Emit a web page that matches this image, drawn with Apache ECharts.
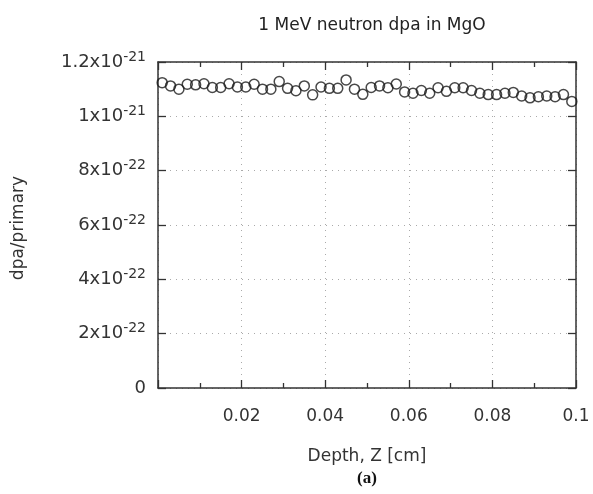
<!DOCTYPE html>
<html>
<head>
<meta charset="utf-8">
<script src="https://cdn.jsdelivr.net/npm/echarts@6/dist/echarts.min.js"></script>
<style>html,body{margin:0;padding:0;background:#fff}#c{width:593px;height:494px}</style>
</head>
<body>
<div id="c"></div>
<script>
// Depth values [cm]
var depth = [];
for (var k = 0; k < 50; k++) depth.push(+(0.001 + 0.002 * k).toFixed(3));
// dpa/primary values in units of 1e-21
var dpa = [1.124,1.112,1.100,1.118,1.116,1.120,1.106,1.106,1.120,1.108,
           1.108,1.118,1.100,1.100,1.128,1.103,1.094,1.112,1.079,1.108,
           1.103,1.103,1.134,1.100,1.081,1.106,1.112,1.105,1.119,1.090,
           1.085,1.095,1.085,1.105,1.092,1.105,1.105,1.095,1.085,1.080,
           1.080,1.085,1.088,1.075,1.068,1.072,1.075,1.072,1.080,1.055];
// y tick labels (value in 1e-21 units -> [mantissa, exponent])
var yTickValues = [0, 0.2, 0.4, 0.6, 0.8, 1.0, 1.2];
var yTickLabels = [['0',''],['2x10','-22'],['4x10','-22'],['6x10','-22'],['8x10','-22'],['1x10','-21'],['1.2x10','-21']];
var xTickValues = [0.02, 0.04, 0.06, 0.08, 0.1];
var xTickLabels = ['0.02','0.04','0.06','0.08','0.1'];

var pts = depth.map(function(d, i){ return [d, dpa[i]]; });

function yFmt(v){
  for (var i = 0; i < yTickValues.length; i++) {
    if (Math.abs(v - yTickValues[i]) < 1e-6) {
      var t = yTickLabels[i];
      return t[1] ? '{a|' + t[0] + '}{b|' + t[1] + '}' : '{a|' + t[0] + '}';
    }
  }
  return '';
}
function xFmt(v){
  for (var i = 0; i < xTickValues.length; i++) {
    if (Math.abs(v - xTickValues[i]) < 1e-9) return xTickLabels[i];
  }
  return '';
}

var axisCol = '#333';
var font = 'DejaVu Sans';
var grid = {left: 158, right: 17, top: 62, bottom: 106, containLabel: false};
var chart = echarts.init(document.getElementById('c'), null, {renderer: 'canvas'});
chart.setOption({
  animation: false,
  backgroundColor: '#fff',
  title: {
    text: '1 MeV neutron dpa in MgO', left: 367, top: 12, textAlign: 'center',
    textStyle: {fontFamily: font, fontSize: 17, fontWeight: 'normal', color: '#222'}
  },
  grid: grid,
  xAxis: [{
    type: 'value', min: 0, max: 0.1, interval: 0.02,
    axisLine: {show: true, onZero: false, lineStyle: {color: axisCol, width: 1.5}},
    axisTick: {show: true, inside: true, length: 8, lineStyle: {color: axisCol, width: 1.3}},
    minorTick: {show: true, splitNumber: 2, length: 5, lineStyle: {color: axisCol, width: 1.3}},
    splitLine: {show: true, lineStyle: {color: '#aaa', type: [1, 5], width: 1}},
    axisLabel: {formatter: xFmt, margin: 20, fontFamily: font, fontSize: 17, color: '#333', showMinLabel: false}
  },{
    type: 'value', min: 0, max: 0.1, interval: 0.02, position: 'top',
    axisLine: {show: true, onZero: false, lineStyle: {color: axisCol, width: 1.5}},
    axisTick: {show: true, inside: true, length: 8, lineStyle: {color: axisCol, width: 1.3}},
    minorTick: {show: true, splitNumber: 2, length: 5, lineStyle: {color: axisCol, width: 1.3}},
    splitLine: {show: false}, axisLabel: {show: false}
  }],
  yAxis: [{
    type: 'value', min: 0, max: 1.2, interval: 0.2,
    axisLine: {show: true, onZero: false, lineStyle: {color: axisCol, width: 1.5}},
    axisTick: {show: true, inside: true, length: 8, lineStyle: {color: axisCol, width: 1.3}},
    splitLine: {show: true, lineStyle: {color: '#aaa', type: [1, 5], width: 1}},
    axisLabel: {
      formatter: yFmt, margin: 12, color: '#333',
      rich: {
        a: {fontFamily: font, fontSize: 18, color: '#333'},
        b: {fontFamily: font, fontSize: 14, color: '#333', padding: [0, 0, 10, 0]}
      }
    }
  },{
    type: 'value', min: 0, max: 1.2, interval: 0.2, position: 'right',
    axisLine: {show: true, onZero: false, lineStyle: {color: axisCol, width: 1.5}},
    axisTick: {show: true, inside: true, length: 8, lineStyle: {color: axisCol, width: 1.3}},
    splitLine: {show: false}, axisLabel: {show: false}
  }],
  graphic: [
    {type: 'text', x: 19, y: 228, rotation: Math.PI / 2, style: {
      text: 'dpa/primary', font: '17px "DejaVu Sans"', fill: '#333', align: 'center', verticalAlign: 'middle'}},
    {type: 'text', x: 367, y: 457, style: {
      text: 'Depth, Z [cm]', font: '17px "DejaVu Sans"', fill: '#333', align: 'center', verticalAlign: 'middle'}},
    {type: 'text', x: 367, y: 479, style: {
      text: '(a)', font: 'bold 17px "Liberation Serif"', fill: '#111', align: 'center', verticalAlign: 'middle'}}
  ],
  series: [{
    type: 'scatter', xAxisIndex: 0, yAxisIndex: 0, data: pts,
    symbol: 'circle', symbolSize: 10,
    itemStyle: {color: 'rgba(255,255,255,0)', borderColor: '#1a1a1a', borderWidth: 1.5},
    clip: false
  }]
});
</script>
</body>
</html>
